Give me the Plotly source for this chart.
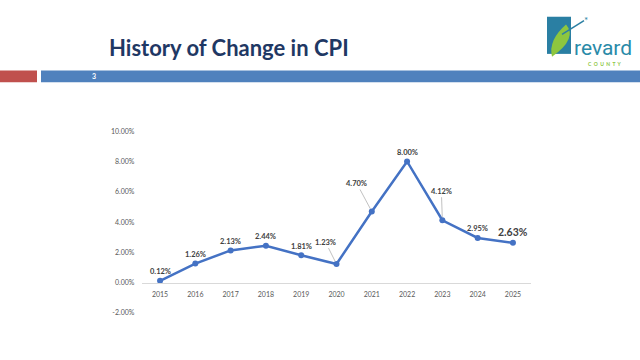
import plotly.graph_objects as go

years = ["2015", "2016", "2017", "2018", "2019", "2020", "2021", "2022", "2023", "2024", "2025"]
cpi = [0.12, 1.26, 2.13, 2.44, 1.81, 1.23, 4.70, 8.00, 4.12, 2.95, 2.63]
labels = ["0.12%", "1.26%", "2.13%", "2.44%", "1.81%", "1.23%", "4.70%", "8.00%", "4.12%", "2.95%", "2.63%"]
y_ticks = [-2, 0, 2, 4, 6, 8, 10]
y_ticklabels = ["-2.00%", "0.00%", "2.00%", "4.00%", "6.00%", "8.00%", "10.00%"]

W, H = 640, 360
def px(x):
    return x / W
def py(y):
    return 1 - y / H

FONT = "Lato"
LINE = "#4472C4"

fig = go.Figure()
fig.add_trace(go.Scatter(
    x=years, y=cpi, mode="lines+markers",
    line=dict(color=LINE, width=2.5),
    marker=dict(color=LINE, size=6),
    hoverinfo="skip", showlegend=False,
))

# data labels: (dx, dy, leader, size)
label_style = {
    "1.23%": (-11, -22, True, 7.5),
    "4.70%": (-15, -28, True, 7.5),
    "4.12%": (-1, -29, True, 7.5),
    "2.63%": (0, -11, False, 10.5),
}
for i, (v, lab) in enumerate(zip(cpi, labels)):
    dx, dy, leader, sz = label_style.get(lab, (0, -9, False, 7.5))
    if leader:
        fig.add_annotation(x=i, y=v, text="<b>%s</b>" % lab, showarrow=True,
                           ax=dx, ay=dy, arrowhead=0, arrowwidth=0.7,
                           arrowcolor="#a6a6a6", standoff=3,
                           font=dict(family=FONT, size=sz, color="#404040"))
    else:
        fig.add_annotation(x=i, y=v, text="<b>%s</b>" % lab, showarrow=False,
                           xshift=dx, yshift=-dy,
                           font=dict(family=FONT, size=sz, color="#404040"))

fig.update_layout(
    width=W, height=H,
    margin=dict(l=0, r=0, t=0, b=0),
    paper_bgcolor="white", plot_bgcolor="white",
    xaxis=dict(type="category", range=[-0.5, len(years) - 0.5],
               domain=[px(142.4), px(530.6)], anchor="free", position=py(284),
               showline=True, linecolor="#d9d9d9", linewidth=1, showgrid=False,
               ticks="", tickfont=dict(family=FONT, size=7, color="#595959"),
               ticklabelstandoff=5),
    yaxis=dict(domain=[py(315), py(129)], range=[-2, 10], tickvals=y_ticks,
               ticktext=y_ticklabels, showgrid=False, zeroline=False,
               showline=False, ticks="", ticklabelstandoff=7,
               tickfont=dict(family=FONT, size=7, color="#595959")),
    font=dict(family=FONT),
)

shapes = [
    dict(type="rect", xref="paper", yref="paper", x0=px(0), x1=px(37), y0=py(79), y1=py(67),
         fillcolor="#C0504D", line=dict(width=0), layer="below"),
    dict(type="rect", xref="paper", yref="paper", x0=px(41), x1=px(640), y0=py(79), y1=py(67),
         fillcolor="#4F81BD", line=dict(width=0), layer="below"),
    # logo block
    dict(type="rect", xref="paper", yref="paper", x0=px(547), x1=px(571), y0=py(50), y1=py(12),
         fillcolor="#2A7FA3", line=dict(width=0)),
    dict(type="path", xref="paper", yref="paper",
         path="M %f %f Q %f %f %f %f Q %f %f %f %f Z" % (
             px(552), py(53), px(548), py(36), px(566), py(20),
             px(578), py(34), px(552), py(53)),
         fillcolor="#8DC63F", line=dict(width=0)),
    dict(type="line", xref="paper", yref="paper", x0=px(562), x1=px(584), y0=py(30), y1=py(16),
         line=dict(color="#2A7FA3", width=1.5)),
]
fig.update_layout(shapes=shapes)

fig.add_annotation(xref="paper", yref="paper", x=px(107), y=py(43), xanchor="left", yanchor="middle",
                   text="<b>History of Change in CPI</b>", showarrow=False,
                   font=dict(family=FONT, size=22, color="#1F3864"))
fig.add_annotation(xref="paper", yref="paper", x=px(94), y=py(73), xanchor="center", yanchor="middle",
                   text="<b>3</b>", showarrow=False,
                   font=dict(family=FONT, size=7, color="white"))
fig.add_annotation(xref="paper", yref="paper", x=px(586), y=py(15), xanchor="center", yanchor="middle",
                   text="*", showarrow=False, font=dict(family=FONT, size=10, color="#2A7FA3"))
fig.add_annotation(xref="paper", yref="paper", x=px(572), y=py(43.5), xanchor="left", yanchor="middle",
                   text="revard", showarrow=False,
                   font=dict(family="Roboto", size=21, color="#2A8AA8"))
fig.add_annotation(xref="paper", yref="paper", x=px(605), y=py(60), xanchor="center", yanchor="middle",
                   text="<b>C  O  U  N  T  Y</b>", showarrow=False,
                   font=dict(family=FONT, size=5, color="#8DC63F"))

fig.write_html("out.html", config={"displayModeBar": False},
               post_script="document.body.style.margin='0';")
